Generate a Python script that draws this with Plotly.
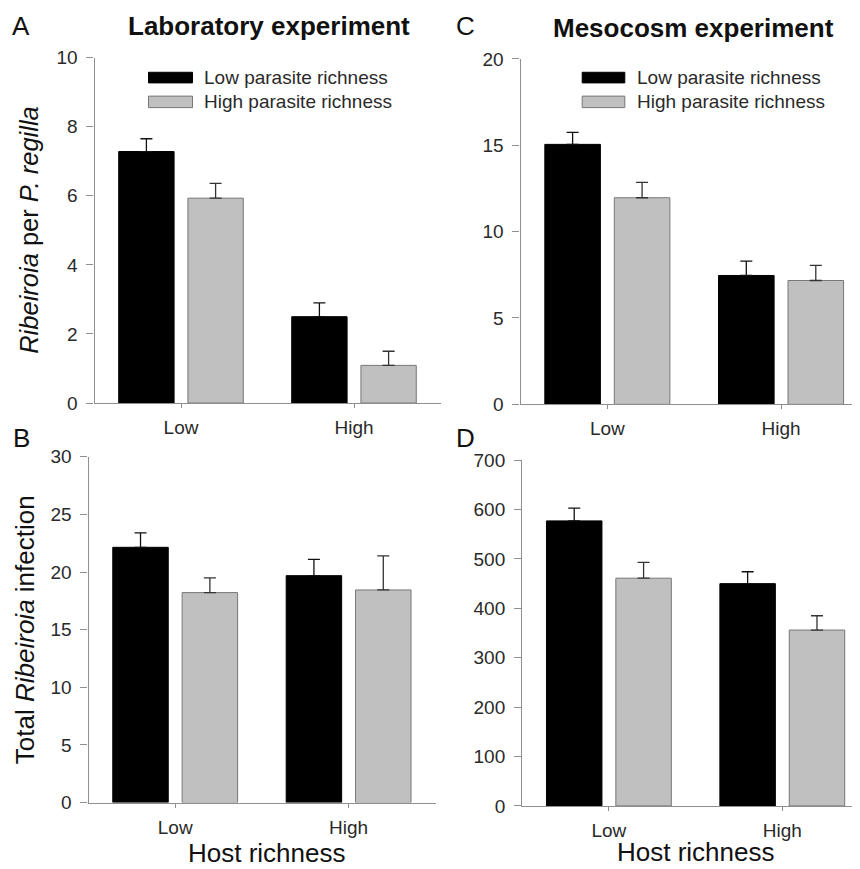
import plotly.graph_objects as go

W, H = 860, 869

categories = ["Low", "High"]

# Panel A: Ribeiroia per P. regilla (laboratory)
lab_per_lowpar = [7.28, 2.50]
lab_per_lowpar_err = [0.37, 0.40]
lab_per_highpar = [5.93, 1.09]
lab_per_highpar_err = [0.43, 0.41]

# Panel C: Ribeiroia per P. regilla (mesocosm)
meso_per_lowpar = [15.05, 7.46]
meso_per_lowpar_err = [0.70, 0.83]
meso_per_highpar = [11.96, 7.17]
meso_per_highpar_err = [0.89, 0.87]

# Panel B: total Ribeiroia infection (laboratory)
lab_tot_lowpar = [22.15, 19.69]
lab_tot_lowpar_err = [1.25, 1.42]
lab_tot_highpar = [18.22, 18.45]
lab_tot_highpar_err = [1.27, 2.95]

# Panel D: total Ribeiroia infection (mesocosm)
meso_tot_lowpar = [577, 450]
meso_tot_lowpar_err = [26, 24]
meso_tot_highpar = [461, 356]
meso_tot_highpar_err = [32, 29]

series_names = ["Low parasite richness", "High parasite richness"]

FONT = "Arial, Liberation Sans, Helvetica, sans-serif"
BLACK = "#000000"
GRAY = "#c0c0c0"
GRAY_LINE = "#777777"
AXIS = "#8f8f8f"
TXT = "#2a2a2a"

# observed page offset / scale compensation
OX = 7.5
OY = 18.5
SY = 846.8


def px(x):
    return (x - OX) / W


def py(y):
    return 1 - (y - OY) / SY


fig = go.Figure()

panels = [
    ("x", "y", lab_per_lowpar, lab_per_lowpar_err, lab_per_highpar, lab_per_highpar_err),
    ("x2", "y2", meso_per_lowpar, meso_per_lowpar_err, meso_per_highpar, meso_per_highpar_err),
    ("x3", "y3", lab_tot_lowpar, lab_tot_lowpar_err, lab_tot_highpar, lab_tot_highpar_err),
    ("x4", "y4", meso_tot_lowpar, meso_tot_lowpar_err, meso_tot_highpar, meso_tot_highpar_err),
]

for xa, ya, v1, e1, v2, e2 in panels:
    fig.add_trace(go.Bar(
        x=categories, y=v1, xaxis=xa, yaxis=ya, name=series_names[0],
        marker=dict(color=BLACK, line=dict(color=BLACK, width=1)),
        error_y=dict(type="data", symmetric=False, array=e1, arrayminus=[0] * len(e1),
                     color="#111111", thickness=1.3, width=6),
        showlegend=False, offsetgroup="1",
    ))
    fig.add_trace(go.Bar(
        x=categories, y=v2, xaxis=xa, yaxis=ya, name=series_names[1],
        marker=dict(color=GRAY, line=dict(color=GRAY_LINE, width=1)),
        error_y=dict(type="data", symmetric=False, array=e2, arrayminus=[0] * len(e2),
                     color="#333333", thickness=1.3, width=6),
        showlegend=False, offsetgroup="2",
    ))

common_x = dict(
    type="category", showline=True, linecolor=AXIS, linewidth=1.3,
    ticks="outside", ticklen=4, tickcolor=AXIS, tickwidth=1.3,
    tickfont=dict(family=FONT, size=19, color=TXT), showgrid=False, zeroline=False,
    ticklabelstandoff=3,
)
common_y = dict(
    showline=True, linecolor=AXIS, linewidth=1.3,
    ticks="outside", ticklen=7, tickcolor=AXIS, tickwidth=1.3,
    tickfont=dict(family=FONT, size=19, color=TXT), showgrid=False, zeroline=False,
    ticklabelstandoff=5,
)

# target pixel geometry of each panel: (x_left, x_right, y_top, y_bottom)
geomA = (94, 440, 58, 403)
geomC = (520, 860 + OX, 59.3, 404.3)
geomB = (88, 435, 456.7, 802)
geomD = (521.7, 860 + OX, 460, 805.3)


def xr(g, unit):
    return [-0.5, -0.5 + (g[1] - g[0]) / unit]


def dx(g):
    return [max(0, px(g[0])), min(1, px(g[1]))]


def dy(g):
    return [py(g[3]), min(1, py(g[2]))]


fig.update_layout(
    width=W, height=H, margin=dict(l=0, r=0, t=0, b=0),
    paper_bgcolor="white", plot_bgcolor="white",
    barmode="group", bargap=0.2, bargroupgap=0.2,
    font=dict(family=FONT, color=TXT),
    xaxis=dict(common_x, domain=dx(geomA), range=xr(geomA, 173), anchor="y"),
    yaxis=dict(common_y, domain=dy(geomA), range=[0, 10], tickvals=[0, 2, 4, 6, 8, 10], anchor="x"),
    xaxis2=dict(common_x, domain=dx(geomC), range=xr(geomC, 173.7), anchor="y2"),
    yaxis2=dict(common_y, domain=dy(geomC), range=[0, 20], tickvals=[0, 5, 10, 15, 20], anchor="x2"),
    xaxis3=dict(common_x, domain=dx(geomB), range=xr(geomB, 173.4), anchor="y3"),
    yaxis3=dict(common_y, domain=dy(geomB), range=[0, 30], tickvals=[0, 5, 10, 15, 20, 25, 30], anchor="x3"),
    xaxis4=dict(common_x, domain=dx(geomD), range=xr(geomD, 173.4), anchor="y4"),
    yaxis4=dict(common_y, domain=dy(geomD), range=[0, 700], tickvals=[0, 100, 200, 300, 400, 500, 600, 700], anchor="x4"),
)

ann = []


def text(x, y, s, size, bold=False, color="#111111", angle=0, xanchor="center"):
    ann.append(dict(
        x=px(x), y=py(y), xref="paper", yref="paper", text=("<b>%s</b>" % s) if bold else s,
        showarrow=False, font=dict(family=FONT, size=size, color=color),
        xanchor=xanchor, yanchor="middle", textangle=angle,
    ))


# panel letters
text(20, 26, "A", 26)
text(465, 26, "C", 26)
text(21, 438, "B", 26)
text(465, 438, "D", 26)
# titles
text(268, 26, "Laboratory experiment", 26, bold=True)
text(693, 28, "Mesocosm experiment", 26, bold=True)
# axis titles
text(29, 230.5, "<i>Ribeiroia</i> per <i>P. regilla</i>", 25.5, angle=-90)
text(24, 629.3, "Total <i>Ribeiroia</i> infection", 26, angle=-90)
text(266, 852, "Host richness", 26)
text(695, 851.5, "Host richness", 26)

shapes = []
# manual legends (swatches + labels)
for (sx0, sx1, tx) in [(148, 192, 201), (581.7, 624.3, 634)]:
    shapes.append(dict(type="rect", xref="paper", yref="paper",
                       x0=px(sx0), x1=px(sx1), y0=py(83.3), y1=py(72.7),
                       fillcolor=BLACK, line=dict(color=BLACK, width=1)))
    shapes.append(dict(type="rect", xref="paper", yref="paper",
                       x0=px(sx0), x1=px(sx1), y0=py(108), y1=py(96.5),
                       fillcolor=GRAY, line=dict(color=GRAY_LINE, width=1)))
    text(tx, 78, series_names[0], 19, color=TXT, xanchor="left")
    text(tx, 102, series_names[1], 19, color=TXT, xanchor="left")

fig.update_layout(annotations=ann, shapes=shapes)

fig.write_html("out.html")
